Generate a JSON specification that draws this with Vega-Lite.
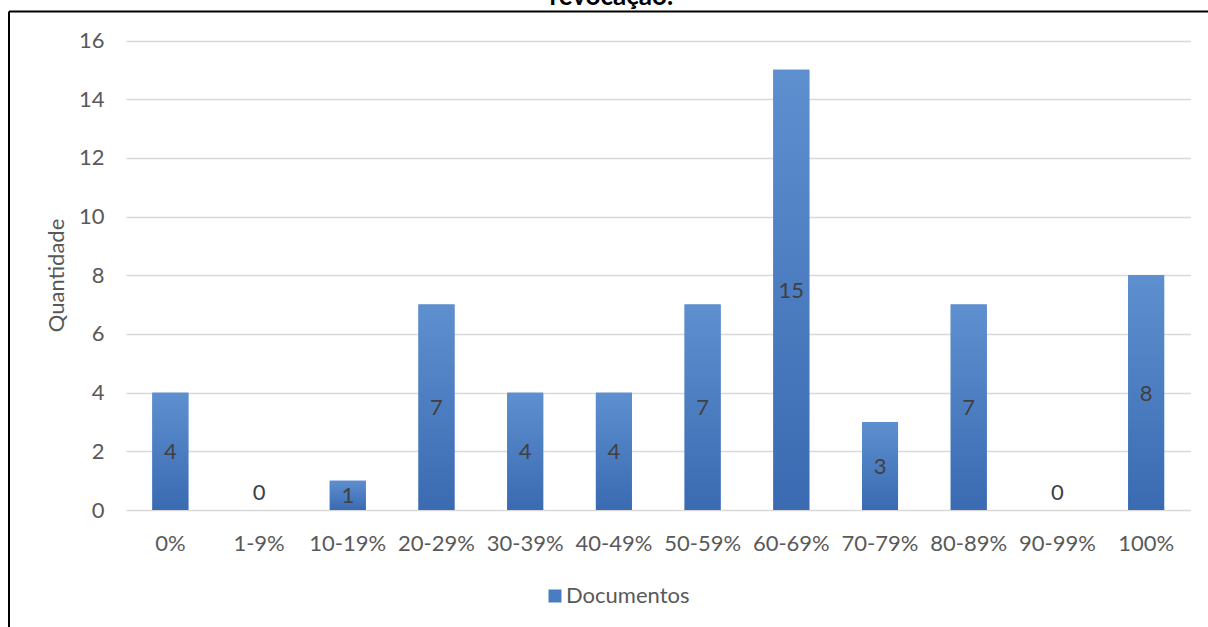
{
  "$schema": "https://vega.github.io/schema/vega-lite/v6.json",
  "width": 1199.5,
  "height": 616,
  "autosize": {"type": "none"},
  "padding": {"left": 8.5, "top": 11, "right": 0, "bottom": 0},
  "background": "white",
  "config": {"view": {"stroke": null}, "font": "Lato"},
  "title": {
    "text": "revocação.",
    "frame": "group",
    "anchor": "middle",
    "orient": "top",
    "offset": 0,
    "dy": 20,
    "dx": 3,
    "baseline": "alphabetic",
    "font": "Lato",
    "fontSize": 26,
    "fontWeight": "bold",
    "color": "#000000"
  },
  "data": {
    "values": [
      {"faixa": "0%", "n": 4},
      {"faixa": "1-9%", "n": 0},
      {"faixa": "10-19%", "n": 1},
      {"faixa": "20-29%", "n": 7},
      {"faixa": "30-39%", "n": 4},
      {"faixa": "40-49%", "n": 4},
      {"faixa": "50-59%", "n": 7},
      {"faixa": "60-69%", "n": 15},
      {"faixa": "70-79%", "n": 3},
      {"faixa": "80-89%", "n": 7},
      {"faixa": "90-99%", "n": 0},
      {"faixa": "100%", "n": 8}
    ]
  },
  "layer": [
    {
      "layer": [
        {
          "mark": {"type": "bar"},
          "encoding": {
            "x": {
              "field": "faixa",
              "type": "nominal",
              "sort": null,
              "title": null,
              "scale": {"range": [117.5, 1182], "paddingInner": 0.594, "paddingOuter": 0.297},
              "axis": {
                "orient": "bottom",
                "offset": -117,
                "domain": false,
                "ticks": false,
                "tickSize": 0,
                "grid": false,
                "labelAngle": 0,
                "labelPadding": 40.5,
                "labelBaseline": "alphabetic",
                "labelFont": "Lato",
                "labelFontSize": 22,
                "labelColor": "#595959"
              }
            },
            "y": {
              "field": "n",
              "type": "quantitative",
              "title": "Quantidade",
              "scale": {"domain": [0, 16], "range": [499, 29.5], "nice": false, "zero": true},
              "axis": {
                "orient": "left",
                "offset": -117.5,
                "values": [0, 2, 4, 6, 8, 10, 12, 14, 16],
                "domain": false,
                "ticks": false,
                "tickSize": 0,
                "grid": true,
                "gridColor": "#d9d9d9",
                "gridWidth": 1.5,
                "labelPadding": 22,
                "labelBaseline": "middle",
                "labelFont": "Lato",
                "labelFontSize": 22,
                "labelColor": "#595959",
                "titleFont": "Lato",
                "titleFontSize": 22,
                "titleFontWeight": "normal",
                "titleColor": "#595959",
                "titleAngle": -90,
                "titleAlign": "center",
                "titleBaseline": "alphabetic",
                "titleX": -62.7,
                "titleY": 264
              }
            },
            "color": {
              "datum": "Documentos",
              "type": "nominal",
              "scale": {"range": ["#4a7cc1"]},
              "legend": {
                "orient": "none",
                "legendX": 535.5,
                "legendY": 574,
                "title": null,
                "padding": 0,
                "symbolType": "square",
                "symbolSize": 169,
                "symbolStrokeWidth": 0,
                "labelFont": "Lato",
                "labelFontSize": 22,
                "labelColor": "#595959",
                "labelOffset": 0
              }
            }
          }
        },
        {
          "mark": {
            "type": "bar",
            "fill": {
              "gradient": "linear",
              "x1": 0, "y1": 0, "x2": 0, "y2": 1,
              "stops": [
                {"offset": 0, "color": "#5e8fcf"},
                {"offset": 1, "color": "#3a6bb2"}
              ]
            }
          },
          "encoding": {
            "x": {"field": "faixa", "type": "nominal", "sort": null, "title": null},
            "y": {"field": "n", "type": "quantitative", "title": "Quantidade"}
          }
        },
        {
          "transform": [
            {"filter": "datum.n > 0"},
            {"calculate": "datum.n / 2", "as": "meio"}
          ],
          "mark": {"type": "text", "baseline": "middle", "align": "center", "dy": 1, "font": "Lato", "fontSize": 22, "color": "#404040"},
          "encoding": {
            "x": {"field": "faixa", "type": "nominal", "sort": null, "title": null},
            "y": {"field": "meio", "type": "quantitative", "title": "Quantidade"},
            "text": {"field": "n", "type": "quantitative"}
          }
        },
        {
          "transform": [{"filter": "datum.n == 0"}],
          "mark": {"type": "text", "baseline": "alphabetic", "align": "center", "dy": -10, "font": "Lato", "fontSize": 22, "color": "#404040"},
          "encoding": {
            "x": {"field": "faixa", "type": "nominal", "sort": null, "title": null},
            "y": {"field": "n", "type": "quantitative", "title": "Quantidade"},
            "text": {"field": "n", "type": "quantitative"}
          }
        }
      ]
    },
    {
      "mark": {"type": "point", "opacity": 0},
      "encoding": {
        "x": {
          "field": "n",
          "type": "quantitative",
          "axis": {"orient": "top", "domain": true, "domainColor": "#000000", "domainWidth": 2, "labels": false, "ticks": false, "tickSize": 0, "grid": false, "title": null, "minExtent": 0, "maxExtent": 0}
        },
        "y": {
          "field": "n",
          "type": "quantitative",
          "axis": {"orient": "left", "domain": true, "domainColor": "#000000", "domainWidth": 2, "labels": false, "ticks": false, "tickSize": 0, "grid": false, "title": null, "minExtent": 0, "maxExtent": 0}
        }
      }
    }
  ],
  "resolve": {
    "scale": {"x": "independent", "y": "independent"},
    "axis": {"x": "independent", "y": "independent"}
  }
}
